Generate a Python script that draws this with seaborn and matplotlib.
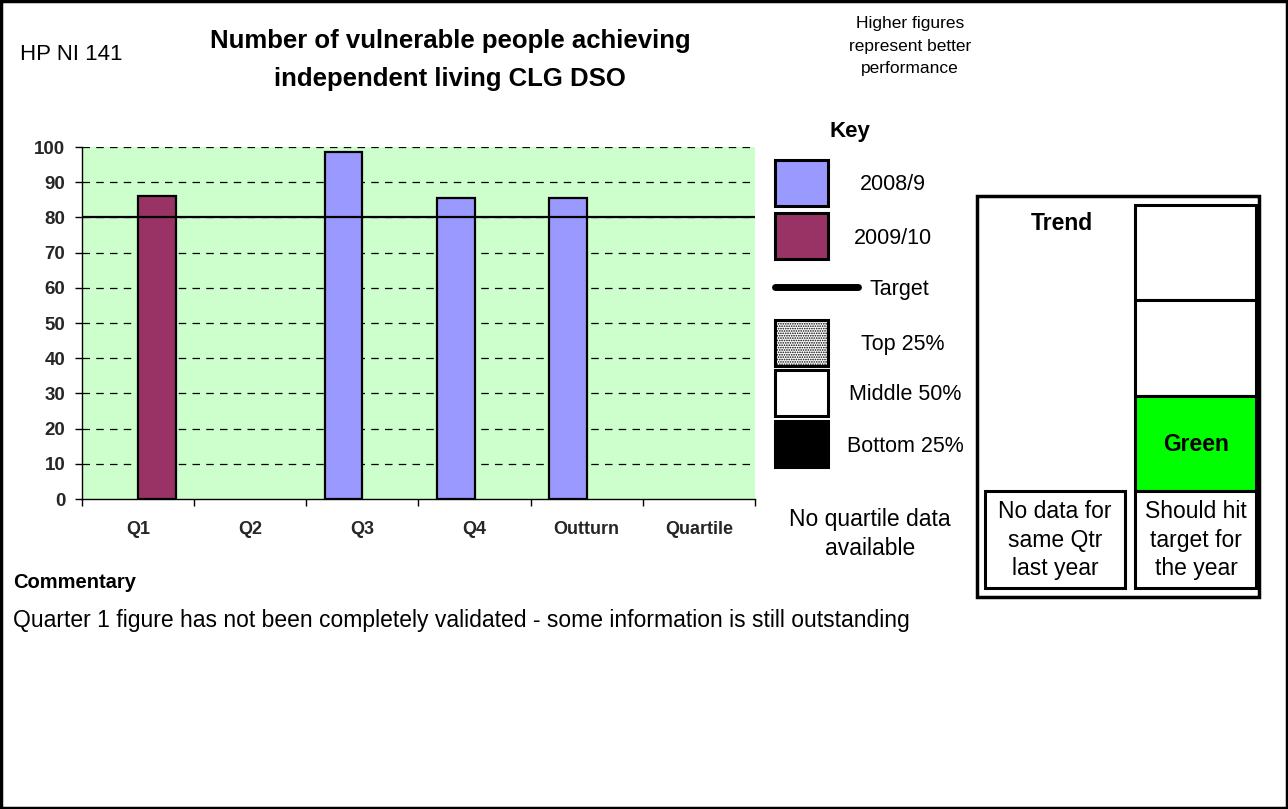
import numpy as np
import pandas as pd
import matplotlib
matplotlib.use("Agg")
import matplotlib.pyplot as plt
from matplotlib.patches import Rectangle
from matplotlib.lines import Line2D
import seaborn as sns

# ---- data ----
categories = ["Q1", "Q2", "Q3", "Q4", "Outturn", "Quartile"]
series_names = ["2008/9", "2009/10"]
values_2008 = [np.nan, np.nan, 98.6, 85.6, 85.6, np.nan]
values_2009 = [86.2, np.nan, np.nan, np.nan, np.nan, np.nan]
target = 80
yticks = [0, 10, 20, 30, 40, 50, 60, 70, 80, 90, 100]
series_colors = ["#9999FF", "#993366"]

sns.set_theme(style="white")
plt.rcParams["font.family"] = ["Liberation Sans", "DejaVu Sans"]
plt.rcParams["hatch.linewidth"] = 0.8

W, H = 1288, 809
fig = plt.figure(figsize=(W / 100, H / 100), dpi=100)
fig.patch.set_facecolor("white")


def fx(x):
    return x / W


def fy(y):
    return 1 - y / H


def frect(x0, y0, x1, y1, fc="white", lw=2.0, ec="black", hatch=None, z=2):
    r = Rectangle((fx(x0), fy(y1)), fx(x1) - fx(x0), fy(y0) - fy(y1),
                  transform=fig.transFigure, facecolor=fc, edgecolor=ec,
                  linewidth=lw, hatch=hatch, zorder=z)
    fig.add_artist(r)
    return r


def ftext(x, y, s, **kw):
    kw.setdefault("ha", "center")
    kw.setdefault("va", "center")
    kw.setdefault("color", "black")
    fig.text(fx(x), fy(y), s, **kw)


# outer border
frect(1, 1, W - 1, H - 1, fc="none", lw=2.5, z=0)

# ---- bar chart ----
ax = fig.add_axes([fx(82), fy(499), fx(755) - fx(82), fy(147) - fy(499)])
ax.set_facecolor("#CCFFCC")

rows = []
for c, a, b in zip(categories, values_2008, values_2009):
    rows.append({"cat": c, "series": series_names[0], "value": a})
    rows.append({"cat": c, "series": series_names[1], "value": b})
df = pd.DataFrame(rows)

sns.barplot(data=df, x="cat", y="value", hue="series", order=categories,
            hue_order=series_names, palette=series_colors, width=0.67,
            edgecolor="black", linewidth=1.6, saturation=1, ax=ax,
            legend=False, zorder=3)

ax.set_xlim(-0.5, len(categories) - 0.5)
ax.set_ylim(0, 100)
ax.set_yticks(yticks)
ax.set_yticklabels([str(t) for t in yticks], fontsize=13.5, fontweight="bold")
for t in yticks[1:]:
    ax.axhline(t, color="black", linestyle=(0, (6, 5)), linewidth=0.9, zorder=1)
ax.axhline(target, color="black", linewidth=1.6, zorder=4)

ax.set_xticks(range(len(categories)))
ax.set_xticklabels(categories, fontsize=13, fontweight="bold")
ax.set_xticks(np.arange(-0.5, len(categories), 1), minor=True)
ax.tick_params(axis="x", which="major", length=0, pad=16)
ax.tick_params(axis="x", which="minor", length=5, width=1, color="black",
               direction="out", bottom=True)
ax.tick_params(axis="y", length=5, width=1, color="black", direction="out",
               left=True, pad=7)
ax.set_xlabel("")
ax.set_ylabel("")
for s in ["top", "right"]:
    ax.spines[s].set_visible(False)
for s in ["left", "bottom"]:
    ax.spines[s].set_color("black")
    ax.spines[s].set_linewidth(1.0)
ax.grid(False)

# ---- header texts ----
ftext(20, 55, "HP NI 141", ha="left", fontsize=16)
ftext(450, 60, "Number of vulnerable people achieving\nindependent living CLG DSO",
      fontsize=18.5, fontweight="bold", linespacing=1.7)
ftext(910, 46, "Higher figures\nrepresent better\nperformance", fontsize=12.5,
      linespacing=1.6)

# ---- key ----
ftext(850, 131, "Key", fontsize=16, fontweight="bold")
key_items = [
    ("2008/9", 160, 206, series_colors[0], None, 893),
    ("2009/10", 213, 259, series_colors[1], None, 893),
    ("Top 25%", 320, 366, "white", ".......", 903),
    ("Middle 50%", 370, 416, "white", None, 905),
    ("Bottom 25%", 421, 467, "black", None, 905),
]
for label, y0, y1, col, hatch, cx in key_items:
    frect(775, y0, 828, y1, fc=col, lw=2.2, hatch=hatch)
    ftext(cx, (y0 + y1) / 2 + 2, label, fontsize=15.5)
fig.add_artist(Line2D([fx(775), fx(858)], [fy(287), fy(287)],
                      transform=fig.transFigure, color="black", linewidth=5))
ftext(899, 289, "Target", fontsize=15.5)
ftext(870, 534, "No quartile data\navailable", fontsize=16.5, linespacing=1.3)

# ---- trend panel ----
frect(977, 196, 1259, 597, fc="white", lw=2.5)
ftext(1062, 223, "Trend", fontsize=16.5, fontweight="bold")
frect(985, 491, 1125, 588, fc="white", lw=2.2)
ftext(1055, 540, "No data for\nsame Qtr\nlast year", fontsize=16.5, linespacing=1.3)
frect(1135, 205, 1256, 300, fc="white", lw=2.2)
frect(1135, 300, 1256, 396, fc="white", lw=2.2)
frect(1135, 396, 1256, 491, fc="#00FF00", lw=2.2)
ftext(1196, 445, "Green", fontsize=16.5, fontweight="bold")
frect(1135, 491, 1256, 588, fc="white", lw=2.2)
ftext(1196, 540, "Should hit\ntarget for\nthe year", fontsize=16.5, linespacing=1.3)

# ---- commentary ----
ftext(13, 583, "Commentary", ha="left", fontsize=14.5, fontweight="bold")
ftext(13, 620, "Quarter 1 figure has not been completely validated - some information is still outstanding",
      ha="left", fontsize=16.5)

fig.savefig("out.png", dpi=100, facecolor="white")
